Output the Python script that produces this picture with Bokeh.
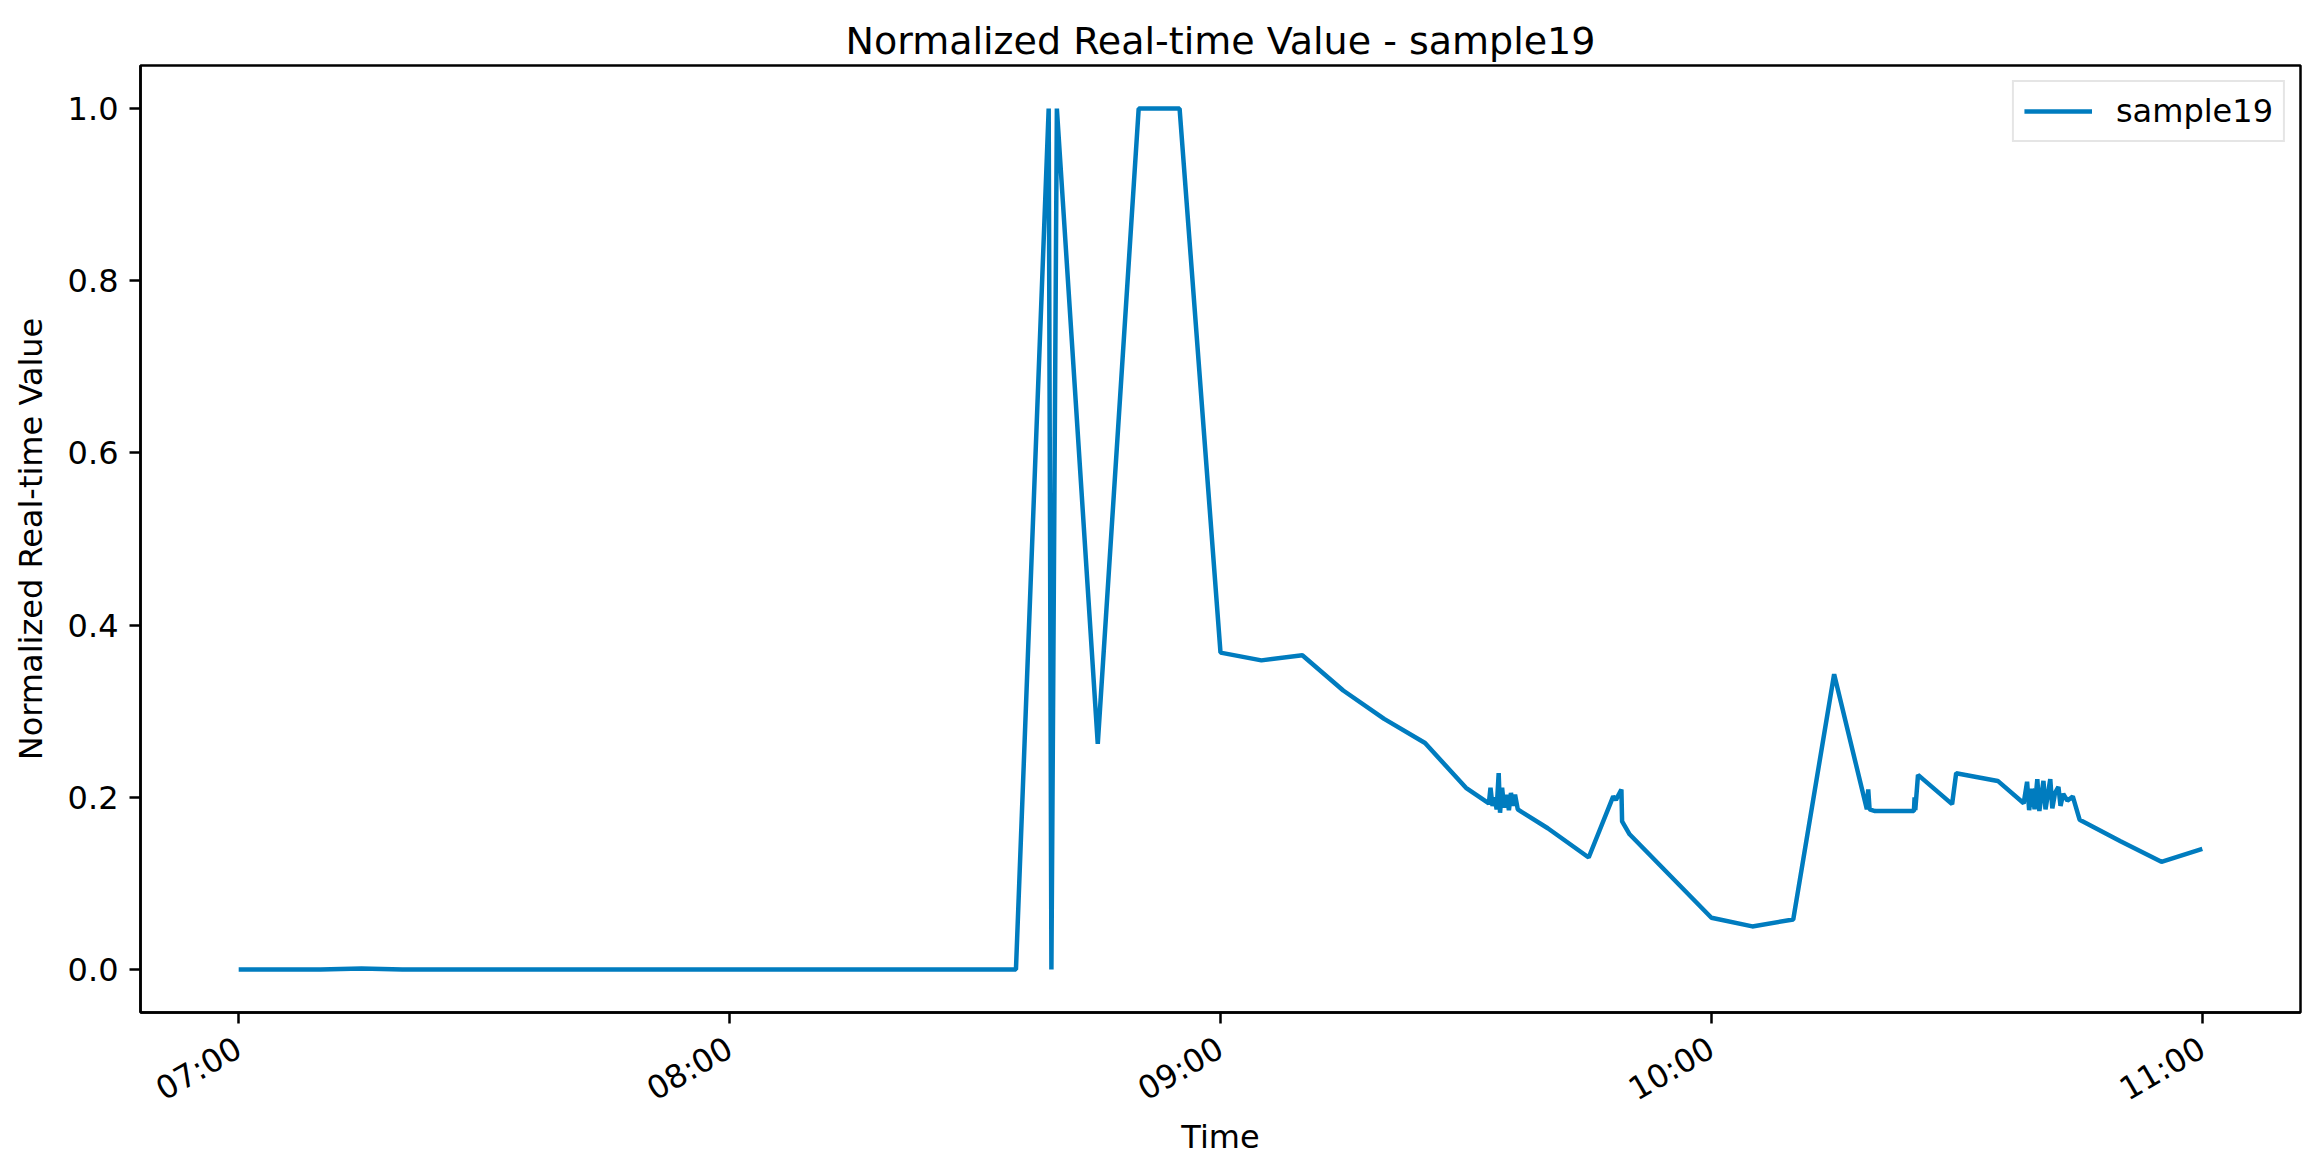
import math
import pandas as pd
from bokeh.plotting import figure
from bokeh.models import Range1d, FixedTicker, PrintfTickFormatter, ColumnDataSource, Title
from bokeh.embed import file_html
from bokeh.resources import INLINE

# ---------------- data ----------------
DAY = "2024-01-01 "
series_name = "sample19"
chart_title = "Normalized Real-time Value - sample19"
x_label = "Time"
y_label = "Normalized Real-time Value"

times = [
    "07:00:00", "07:05:00", "07:10:00", "07:15:00", "07:20:00", "07:25:00", "07:30:00",
    "07:35:00", "07:40:00", "07:45:00", "07:50:00", "07:55:00", "08:00:00", "08:05:00",
    "08:10:00", "08:15:00", "08:20:00", "08:25:00", "08:30:00", "08:35:00",
    "08:39:00", "08:39:20", "08:40:00", "08:45:00", "08:50:00", "08:55:00",
    "09:00:00", "09:05:00", "09:10:00", "09:15:00", "09:20:00", "09:25:00", "09:30:00",
    "09:32:48", "09:33:00", "09:33:15", "09:33:30", "09:33:45", "09:34:00", "09:34:10",
    "09:34:25", "09:34:40", "09:35:00", "09:35:15", "09:35:30", "09:35:45", "09:36:00",
    "09:36:20", "09:36:48",
    "09:40:00", "09:45:00", "09:48:00", "09:48:20", "09:49:00", "09:49:05", "09:50:00",
    "10:00:00", "10:05:00", "10:10:00", "10:15:00",
    "10:19:00", "10:19:10", "10:19:20", "10:20:00", "10:24:45", "10:24:50", "10:24:55",
    "10:25:15", "10:29:25", "10:29:55", "10:35:00",
    "10:38:10", "10:38:35", "10:38:50", "10:39:10", "10:39:30", "10:39:50", "10:40:05",
    "10:40:35", "10:40:50", "10:41:25", "10:41:40", "10:42:00", "10:42:25", "10:42:40",
    "10:43:00", "10:43:30", "10:44:10",
    "10:45:00", "10:50:00", "10:55:00", "11:00:00",
]
values = [
    0.000, 0.000, 0.000, 0.001, 0.000, 0.000, 0.000,
    0.000, 0.000, 0.000, 0.000, 0.000, 0.000, 0.000,
    0.000, 0.000, 0.000, 0.000, 0.000, 0.000,
    1.000, 0.000, 1.000, 0.262, 1.000, 1.000,
    0.368, 0.359, 0.365, 0.324, 0.291, 0.263, 0.211,
    0.193, 0.211, 0.190, 0.200, 0.186, 0.228, 0.182,
    0.211, 0.188, 0.203, 0.185, 0.205, 0.190, 0.203,
    0.186, 0.183,
    0.164, 0.130, 0.201, 0.197, 0.209, 0.172, 0.157,
    0.060, 0.050, 0.058, 0.343,
    0.186, 0.209, 0.186, 0.184, 0.184, 0.200, 0.185,
    0.226, 0.192, 0.228, 0.219,
    0.193, 0.218, 0.185, 0.210, 0.186, 0.221, 0.184,
    0.219, 0.186, 0.221, 0.187, 0.205, 0.212, 0.190,
    0.204, 0.196, 0.201,
    0.174, 0.149, 0.125, 0.140,
]
x_tick_times = ["07:00:00", "08:00:00", "09:00:00", "10:00:00", "11:00:00"]
x_tick_labels = ["07:00", "08:00", "09:00", "10:00", "11:00"]
y_ticks = [0.0, 0.2, 0.4, 0.6, 0.8, 1.0]

# ---------------- figure ----------------
t = pd.to_datetime([DAY + s for s in times])
src = ColumnDataSource(dict(t=t, v=values))

x_start = pd.Timestamp(DAY + "06:48:00")
x_end = pd.Timestamp(DAY + "11:12:00")

FONT = "DejaVu Sans"
LINE = "#007cbf"

p = figure(
    width=2308, height=1160,
    x_axis_type="datetime",
    x_range=Range1d(x_start, x_end),
    y_range=Range1d(-0.05, 1.05),
    output_backend="svg", toolbar_location=None,
    min_border_left=140, min_border_right=8,
    min_border_top=65, min_border_bottom=148,
)
p.background_fill_color = "white"
p.border_fill_color = "white"
p.outline_line_color = "#000000"
p.outline_line_width = 2.5
p.xgrid.visible = False
p.ygrid.visible = False

# invisible spacer panel next to the frame, then the real title above it
spacer = Title(text=".", text_font_size="2px", text_alpha=0, standoff=6)
p.add_layout(spacer, "above")
main_title = Title(text=chart_title, text_font=FONT, text_font_size="38px",
                   text_font_style="normal", text_color="#000000",
                   align="center", standoff=6)
p.add_layout(main_title, "above")

tick_ms = [int(pd.Timestamp(DAY + s).value // 10**6) for s in x_tick_times]
p.xaxis.ticker = FixedTicker(ticks=tick_ms)
p.xaxis.major_label_overrides = {k: lab for k, lab in zip(tick_ms, x_tick_labels)}
p.xaxis.major_label_orientation = math.pi / 6
p.yaxis.ticker = FixedTicker(ticks=y_ticks)
p.yaxis.formatter = PrintfTickFormatter(format="%.1f")

for ax in (p.xaxis, p.yaxis):
    ax.major_label_text_font = FONT
    ax.major_label_text_font_size = "32px"
    ax.major_label_text_color = "#000000"
    ax.axis_label_text_font = FONT
    ax.axis_label_text_font_size = "32px"
    ax.axis_label_text_font_style = "normal"
    ax.axis_label_text_color = "#000000"
    ax.major_tick_out = 11
    ax.major_tick_in = 0
    ax.minor_tick_out = 0
    ax.minor_tick_in = 0
    ax.major_tick_line_color = "#000000"
    ax.major_tick_line_width = 2.5
    ax.axis_line_color = "#000000"
    ax.axis_line_width = 2.5

p.xaxis.major_label_standoff = 22
p.yaxis.major_label_standoff = 11
p.xaxis.axis_label = x_label
p.yaxis.axis_label = y_label
p.xaxis.axis_label_standoff = -10
p.yaxis.axis_label_standoff = 15

p.line("t", "v", source=src, line_color=LINE, line_width=4.5, legend_label=series_name)

lg = p.legend[0]
lg.location = "top_right"
lg.margin = 15
lg.padding = 10
lg.label_text_font = FONT
lg.label_text_font_size = "32px"
lg.label_text_color = "#000000"
lg.glyph_width = 68
lg.glyph_height = 30
lg.label_height = 30
lg.label_standoff = 24
lg.border_line_color = "#cccccc"
lg.border_line_width = 2
lg.background_fill_color = "white"
lg.background_fill_alpha = 0.8

open("out.html", "w").write(file_html(p, INLINE))
